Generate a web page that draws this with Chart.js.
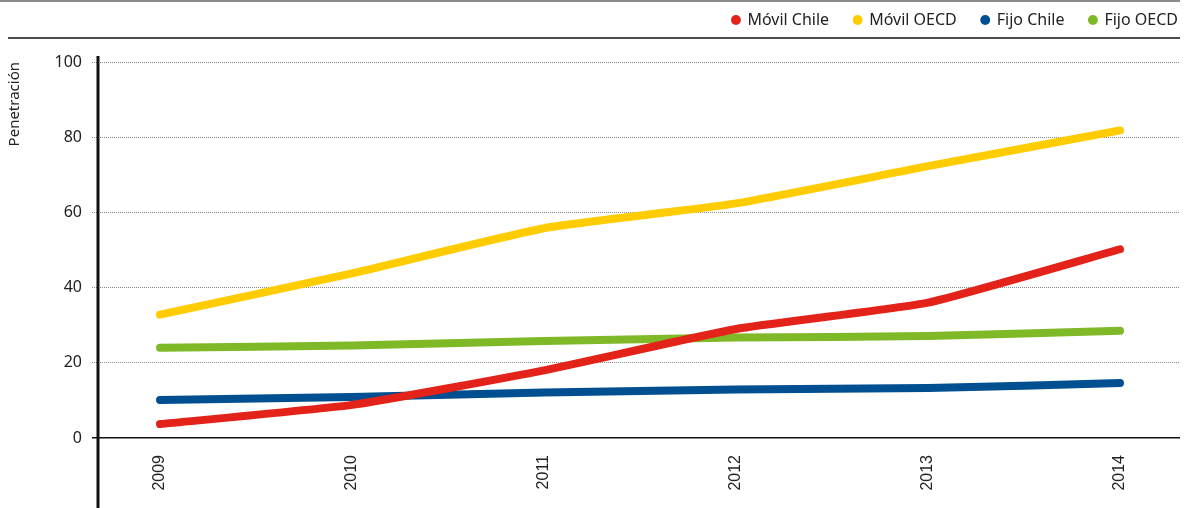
<!DOCTYPE html>
<html>
<head>
<meta charset="utf-8">
<script src="https://cdn.jsdelivr.net/npm/chart.js@4/dist/chart.umd.min.js"></script>
<style>
    html, body { margin: 0; padding: 0; background: #fff; }
    #wrap { width: 1191px; height: 508px; }
</style>
</head>
<body>
<div id="wrap"><canvas id="penetracion"></canvas></div>
<script>
const years = [2009, 2010, 2011, 2012, 2013, 2014];
const movilChile = [3.7, 8.8, 18.0, 29.0, 36.0, 50.2];
const movilOECD = [32.8, 43.8, 55.8, 62.4, 72.3, 81.8];
const fijoChile = [10.1, 10.9, 12.1, 12.9, 13.3, 14.6];
const fijoOECD = [24.0, 24.6, 25.8, 26.7, 27.1, 28.5];
const yTicks = [0, 20, 40, 60, 80, 100];

function points(values) {
    return values.map((v, i) => ({ x: years[i], y: v }));
}

function serie(label, values, color) {
    return {
        label: label,
        data: points(values),
        borderColor: color,
        backgroundColor: color,
        borderWidth: 8,
        borderCapStyle: 'round',
        borderJoinStyle: 'round',
        pointRadius: 0,
        tension: 0.15,
        fill: false
    };
}

// réserve de l'espace sous la légende sans déplacer les entrées,
// et colle la légende au bord droit du graphique
const espaceLegende = {
    id: 'espaceLegende',
    beforeLayout(chart) {
        const legend = chart.legend;
        if (legend && !legend._agrandie) {
            const fit = legend.fit.bind(legend);
            legend.fit = function () {
                fit();
                this.height += 24;
            };
            legend._agrandie = true;
        }
    },
    afterLayout(chart) {
        chart.legend.left += 23;
        chart.legend.right += 23;
    }
};

// lignes de cadre : filet gris en haut, filet noir sous la légende, axe Y épais
const cadre = {
    id: 'cadre',
    afterDraw(chart) {
        const ctx = chart.ctx;
        const area = chart.chartArea;
        ctx.save();
        ctx.strokeStyle = '#8c8c8c';
        ctx.lineWidth = 2;
        ctx.beginPath();
        ctx.moveTo(0, 1);
        ctx.lineTo(area.right, 1);
        ctx.stroke();

        ctx.strokeStyle = '#111';
        ctx.lineWidth = 1.5;
        ctx.beginPath();
        ctx.moveTo(8, 38);
        ctx.lineTo(area.right, 38);
        ctx.stroke();

        ctx.lineWidth = 3;
        ctx.beginPath();
        ctx.moveTo(area.left, area.top - 6);
        ctx.lineTo(area.left, chart.height);
        ctx.stroke();
        ctx.restore();
    }
};

new Chart(document.querySelector('#penetracion'), {
    type: 'line',
    data: {
        datasets: [
            serie('Móvil Chile', movilChile, '#e32219'),
            serie('Móvil OECD', movilOECD, '#ffcc00'),
            serie('Fijo Chile', fijoChile, '#004f91'),
            serie('Fijo OECD', fijoOECD, '#80b927')
        ]
    },
    plugins: [espaceLegende, cadre],
    options: {
        responsive: true,
        maintainAspectRatio: false,
        animation: false,
        events: [],
        layout: {
            padding: { top: -13, right: 11, bottom: 0, left: 0 }
        },
        plugins: {
            tooltip: { enabled: false },
            legend: {
                position: 'top',
                align: 'end',
                labels: {
                    usePointStyle: true,
                    pointStyle: 'circle',
                    boxWidth: 7,
                    boxHeight: 7,
                    padding: 25,
                    color: '#222',
                    font: { family: '"Noto Sans"', size: 16 },
                    generateLabels: (chart) => {
                        const items = Chart.defaults.plugins.legend.labels.generateLabels(chart);
                        items.forEach((item) => {
                            item.lineWidth = 0;
                        });
                        return items;
                    }
                }
            }
        },
        scales: {
            x: {
                type: 'linear',
                min: 2008.677,
                max: 2014.3125,
                afterBuildTicks: (scale) => {
                    scale.ticks = years.map(v => ({ value: v }));
                },
                afterFit: (scale) => {
                    scale.height = 70;
                },
                grid: { display: false, drawTicks: false },
                border: { display: false },
                ticks: {
                    minRotation: 90,
                    maxRotation: 90,
                    padding: 17,
                    color: '#222',
                    font: { family: '"Liberation Sans"', size: 16 },
                    callback: (v) => String(v)
                }
            },
            y: {
                min: 0,
                max: 100,
                afterBuildTicks: (scale) => {
                    scale.ticks = yTicks.map(v => ({ value: v }));
                },
                afterFit: (scale) => {
                    scale.width = 98;
                },
                title: {
                    display: true,
                    text: 'Penetración',
                    align: 'end',
                    color: '#222',
                    padding: { top: 6, bottom: 0 },
                    font: { family: '"Noto Sans"', size: 15 }
                },
                border: {
                    display: false,
                    dash: (ctx) => (ctx.tick && ctx.tick.value === 0 ? [] : [1, 1])
                },
                grid: {
                    color: (ctx) => (ctx.tick && ctx.tick.value === 0 ? '#111' : '#888'),
                    lineWidth: (ctx) => (ctx.tick && ctx.tick.value === 0 ? 1.5 : 1),
                    tickColor: (ctx) => (ctx.tick && ctx.tick.value === 0 ? '#111' : '#888'),
                    tickBorderDash: (ctx) => (ctx.tick && ctx.tick.value === 0 ? [] : [1, 1]),
                    tickLength: 6
                },
                ticks: {
                    padding: 10,
                    color: '#222',
                    font: { family: '"Noto Sans"', size: 16 }
                }
            }
        }
    }
});
</script>
</body>
</html>
